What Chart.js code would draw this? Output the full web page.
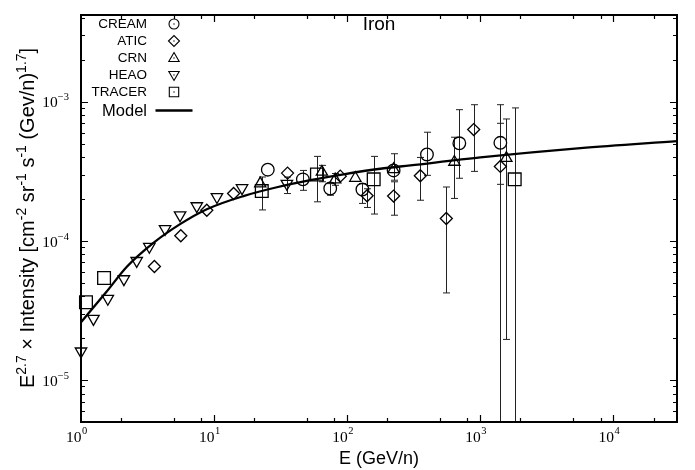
<!DOCTYPE html>
<html><head><meta charset="utf-8">
<script src="https://cdn.jsdelivr.net/npm/chart.js@4.4.1/dist/chart.umd.min.js"></script>
<style>html,body{margin:0;padding:0;background:#fff;}canvas{display:block;}</style>
</head><body>
<canvas id="c" width="695" height="470"></canvas>
<script>
// ---- data (E in GeV/n, E^2.7 x intensity) ----
const creamE  = [25.3, 46.4, 74.5, 130, 223, 397, 695, 1413];
const creamI  = [3.25e-4, 2.77e-4, 2.38e-4, 2.34e-4, 3.21e-4, 4.18e-4, 5.03e-4, 5.07e-4];
const creamHi = [null, 3.21e-4, 2.58e-4, 2.58e-4, 4.23e-4, 6.04e-4, 8.77e-4, 9.52e-4];
const creamLo = [null, 2.31e-4, 2.13e-4, 1.86e-4, 2.73e-4, 2.96e-4, 2.82e-4, 2.55e-4];

const aticE  = [3.56, 5.62, 8.81, 14.0, 35.6, 88.6, 141, 223, 354, 555, 891, 1413];
const aticI  = [6.55e-5, 1.09e-4, 1.66e-4, 2.19e-4, 3.07e-4, 2.92e-4, 2.11e-4, 2.10e-4, 2.94e-4, 1.45e-4, 6.31e-4, 3.43e-4];
const aticHi = [null, null, null, null, null, null, 2.37e-4, 2.66e-4, 3.98e-4, 2.44e-4, 9.52e-4, 7.0e-4];
const aticLo = [null, null, null, null, null, null, 1.74e-4, 1.53e-4, 1.96e-4, 4.23e-5, 3.16e-4, 1e-8];

const crnE  = [22.2, 64.5, 81.2, 115, 223, 638, 1567];
const crnI  = [2.58e-4, 3.13e-4, 2.76e-4, 2.83e-4, 3.27e-4, 3.69e-4, 3.93e-4];
const crnHi = [null, 3.49e-4, 3.05e-4, null, null, 5.56e-4, 7.52e-4];
const crnLo = [null, 2.66e-4, 2.51e-4, null, null, 2.02e-4, 1.96e-5];

const heaoE  = [1.0, 1.24, 1.59, 2.10, 2.62, 3.26, 4.28, 5.55, 7.41, 10.5, 16.2, 35.2];
const heaoI  = [1.61e-5, 2.76e-5, 3.85e-5, 5.32e-5, 7.2e-5, 9.1e-5, 1.22e-4, 1.53e-4, 1.78e-4, 2.07e-4, 2.40e-4, 2.58e-4];
const heaoHi = [null, null, null, null, null, null, null, null, null, null, null, 2.88e-4];
const heaoLo = [null, null, null, null, null, null, null, null, null, null, null, 2.19e-4];

const tracerE  = [1.09, 1.49, 22.8, 59.2, 158, 1811];
const tracerI  = [3.63e-5, 5.42e-5, 2.28e-4, 3.0e-4, 2.77e-4, 2.77e-4];
const tracerHi = [null, null, 2.88e-4, 4.05e-4, 4.05e-4, 9.03e-4];
const tracerLo = [null, null, 1.67e-4, 1.91e-4, 1.56e-4, 1e-8];

const modelE = [1.0, 1.56, 2.21, 3.50, 5.55, 8.81, 16.6, 29.6, 52.7, 93.8, 177, 298, 1000, 5650, 30000];
const modelI = [2.60e-5, 4.33e-5, 6.52e-5, 9.68e-5, 1.32e-4, 1.69e-4, 2.10e-4, 2.43e-4, 2.73e-4, 3.01e-4, 3.30e-4, 3.49e-4, 3.98e-4, 4.64e-4, 5.21e-4];

const seriesNames = ['CREAM', 'ATIC', 'CRN', 'HEAO', 'TRACER'];
const xTickExps = ['0', '1', '2', '3', '4'];
const yTickExps = ['-5', '-4', '-3'];
const xRange = [1, 3e4];
const yRange = [5e-6, 4.2e-3];

// ---- build datasets ----
function pts(xs, ys) { return xs.map((x, i) => ({x: x, y: ys[i]})); }
const markerStyle = {
  CREAM:  {pointStyle: 'circle',   pointRadius: 6.3, rotation: 0},
  ATIC:   {pointStyle: 'rectRot',  pointRadius: 6.0, rotation: 0},
  CRN:    {pointStyle: 'triangle', pointRadius: 6.5, rotation: 0},
  HEAO:   {pointStyle: 'triangle', pointRadius: 6.6, rotation: 180},
  TRACER: {pointStyle: 'rect',     pointRadius: 9.0, rotation: 0}
};
const seriesData = {
  CREAM:  {x: creamE,  y: creamI,  hi: creamHi,  lo: creamLo},
  ATIC:   {x: aticE,   y: aticI,   hi: aticHi,   lo: aticLo},
  CRN:    {x: crnE,    y: crnI,    hi: crnHi,    lo: crnLo},
  HEAO:   {x: heaoE,   y: heaoI,   hi: heaoHi,   lo: heaoLo},
  TRACER: {x: tracerE, y: tracerI, hi: tracerHi, lo: tracerLo}
};

const datasets = seriesNames.map(n => Object.assign({
  label: n,
  type: 'scatter',
  data: pts(seriesData[n].x, seriesData[n].y),
  showLine: false,
  borderColor: '#000',
  backgroundColor: 'rgba(0,0,0,0)',
  pointBorderColor: '#000',
  pointBackgroundColor: 'rgba(0,0,0,0)',
  pointBorderWidth: 1.3,
  clip: false
}, markerStyle[n]));
datasets.push({
  label: 'Model',
  type: 'line',
  data: pts(modelE, modelI),
  borderColor: '#000',
  borderWidth: 2.3,
  pointRadius: 0,
  cubicInterpolationMode: 'monotone',
  fill: false
});

// ---- helpers for superscript text ----
function drawRich(ctx, segs, x, y, base, sup, fam) {
  let cx = x;
  for (const s of segs) {
    ctx.font = (s.sup ? sup : base) + 'px ' + fam;
    ctx.fillText(s.t, cx, s.sup ? y - base * 0.42 : y);
    cx += ctx.measureText(s.t).width;
  }
  return cx - x;
}
function richWidth(ctx, segs, base, sup, fam) {
  let w = 0;
  for (const s of segs) { ctx.font = (s.sup ? sup : base) + 'px ' + fam; w += ctx.measureText(s.t).width; }
  return w;
}

const errorBars = {
  id: 'errorBars',
  beforeDatasetsDraw(chart) {
    const ctx = chart.ctx, a = chart.chartArea, xs = chart.scales.x, ys = chart.scales.y;
    ctx.save();
    ctx.beginPath(); ctx.rect(a.left, a.top, a.right - a.left, a.bottom - a.top); ctx.clip();
    ctx.strokeStyle = '#222'; ctx.lineWidth = 1;
    for (const n of seriesNames) {
      const d = seriesData[n];
      d.x.forEach((e, i) => {
        if (d.hi[i] == null) return;
        const px = Math.round(xs.getPixelForValue(e)) + 0.5;
        const ph = ys.getPixelForValue(d.hi[i]);
        const pl = ys.getPixelForValue(d.lo[i]);
        ctx.beginPath();
        ctx.moveTo(px, ph); ctx.lineTo(px, pl);
        ctx.moveTo(px - 3.5, ph); ctx.lineTo(px + 3.5, ph);
        ctx.moveTo(px - 3.5, pl); ctx.lineTo(px + 3.5, pl);
        ctx.stroke();
      });
    }
    ctx.restore();
  }
};

function legendMarker(ctx, kind, x, y) {
  ctx.beginPath();
  if (kind === 'CREAM') { ctx.arc(x, y, 5, 0, Math.PI * 2); }
  else if (kind === 'ATIC') { ctx.moveTo(x - 5.5, y); ctx.lineTo(x, y - 5.5); ctx.lineTo(x + 5.5, y); ctx.lineTo(x, y + 5.5); ctx.closePath(); }
  else if (kind === 'CRN') { ctx.moveTo(x, y - 5.5); ctx.lineTo(x + 5.2, y + 3.5); ctx.lineTo(x - 5.2, y + 3.5); ctx.closePath(); }
  else if (kind === 'HEAO') { ctx.moveTo(x, y + 5.5); ctx.lineTo(x + 5.2, y - 3.5); ctx.lineTo(x - 5.2, y - 3.5); ctx.closePath(); }
  else { ctx.rect(x - 4.7, y - 4.7, 9.4, 9.4); }
  ctx.stroke();
  ctx.fillRect(x - 0.6, y - 0.6, 1.2, 1.2);
}

const frame = {
  id: 'frame',
  afterDraw(chart) {
    const ctx = chart.ctx, a = chart.chartArea, xs = chart.scales.x, ys = chart.scales.y;
    ctx.save();
    ctx.strokeStyle = '#000'; ctx.fillStyle = '#000';
    // ticks
    ctx.lineWidth = 1.2;
    ctx.beginPath();
    for (let d = -6; d <= -2; d++) {
      for (let m = 1; m <= 9; m++) {
        const v = m * Math.pow(10, d);
        if (v < yRange[0] * 1.0001 || v > yRange[1] * 0.9999) continue;
        const py = Math.round(ys.getPixelForValue(v)) + 0.5;
        const len = m === 1 ? 7 : 4;
        ctx.moveTo(a.left, py); ctx.lineTo(a.left + len, py);
        ctx.moveTo(a.right, py); ctx.lineTo(a.right - len, py);
      }
    }
    for (let d = 0; d <= 4; d++) {
      for (const m of [1, 2, 5, 8]) {
        const v = m * Math.pow(10, d);
        if (v <= xRange[0] * 1.0001 || v >= xRange[1] * 0.9999) continue;
        const px = Math.round(xs.getPixelForValue(v)) + 0.5;
        const len = m === 1 ? 7 : 4;
        ctx.moveTo(px, a.bottom); ctx.lineTo(px, a.bottom - len);
        ctx.moveTo(px, a.top); ctx.lineTo(px, a.top + len);
      }
    }
    ctx.stroke();
    // border
    ctx.lineWidth = 2;
    ctx.strokeRect(a.left, a.top, a.right - a.left, a.bottom - a.top);

    // tick labels
    const serif = '"Liberation Serif", "DejaVu Serif", serif';
    ctx.textBaseline = 'middle';
    ctx.textAlign = 'left';
    xTickExps.forEach(e => {
      const px = xs.getPixelForValue(Math.pow(10, +e));
      ctx.font = '15.5px ' + serif;
      const w10 = ctx.measureText('10').width;
      ctx.fillText('10', px - w10 + 0.5, a.bottom + 16);
      ctx.font = '10.5px ' + serif;
      ctx.fillText(e, px + 1, a.bottom + 9);
    });
    yTickExps.forEach(e => {
      const py = ys.getPixelForValue(Math.pow(10, +e));
      ctx.font = '10.5px ' + serif;
      const et = e.replace('-', '\u2212');
      const we = ctx.measureText(et).width;
      ctx.font = '15.5px ' + serif;
      const w10 = ctx.measureText('10').width;
      const x0 = a.left - 12 - we - w10;
      ctx.fillText('10', x0, py + 1.5);
      ctx.font = '10.5px ' + serif;
      ctx.fillText(et, x0 + w10, py - 4);
    });

    // axis titles
    const sans = '"Liberation Sans", Arial, Helvetica, sans-serif';
    ctx.textBaseline = 'alphabetic';
    ctx.textAlign = 'left';
    ctx.font = '18px ' + sans;
    const xt = 'E (GeV/n)';
    const xtw = ctx.measureText(xt).width;
    ctx.fillText(xt, (a.left + a.right) / 2 - xtw / 2, 464);

    const ySegs = [
      {t: 'E'}, {t: '2.7', sup: true}, {t: ' \u00d7 Intensity [cm'}, {t: '-2', sup: true},
      {t: ' sr'}, {t: '-1', sup: true}, {t: ' s'}, {t: '-1', sup: true},
      {t: ' (Gev/n)'}, {t: '1.7', sup: true}, {t: ']'}
    ];
    const yw = richWidth(ctx, ySegs, 20, 14, sans);
    ctx.save();
    ctx.translate(34, 218);
    ctx.rotate(-Math.PI / 2);
    drawRich(ctx, ySegs, -yw / 2, 0, 20, 14, sans);
    ctx.restore();

    // title
    ctx.font = '19px ' + sans;
    const tw = ctx.measureText('Iron').width;
    ctx.fillText('Iron', (a.left + a.right) / 2 - tw / 2, 30);

    // legend
    ctx.textAlign = 'right';
    ctx.textBaseline = 'middle';
    ctx.font = '13.5px ' + sans;
    const ly = [24, 41, 58, 75, 92];
    ctx.lineWidth = 1.1;
    seriesNames.forEach((n, i) => {
      ctx.fillText(n, 147, ly[i]);
      legendMarker(ctx, n, 174, ly[i]);
    });
    ctx.font = '16.5px ' + sans;
    ctx.fillText('Model', 147, 111);
    ctx.lineWidth = 2.3;
    ctx.beginPath(); ctx.moveTo(155.5, 110.5); ctx.lineTo(192.5, 110.5); ctx.stroke();
    ctx.restore();
  }
};

new Chart(document.getElementById('c'), {
  data: {datasets: datasets},
  options: {
    responsive: false,
    animation: false,
    events: [],
    layout: {padding: {left: 81, right: 18, top: 15, bottom: 48}},
    plugins: {legend: {display: false}, tooltip: {enabled: false}, title: {display: false}},
    scales: {
      x: {type: 'logarithmic', min: xRange[0], max: xRange[1], display: false},
      y: {type: 'logarithmic', min: yRange[0], max: yRange[1], display: false}
    }
  },
  plugins: [errorBars, frame]
});
</script>
</body></html>
